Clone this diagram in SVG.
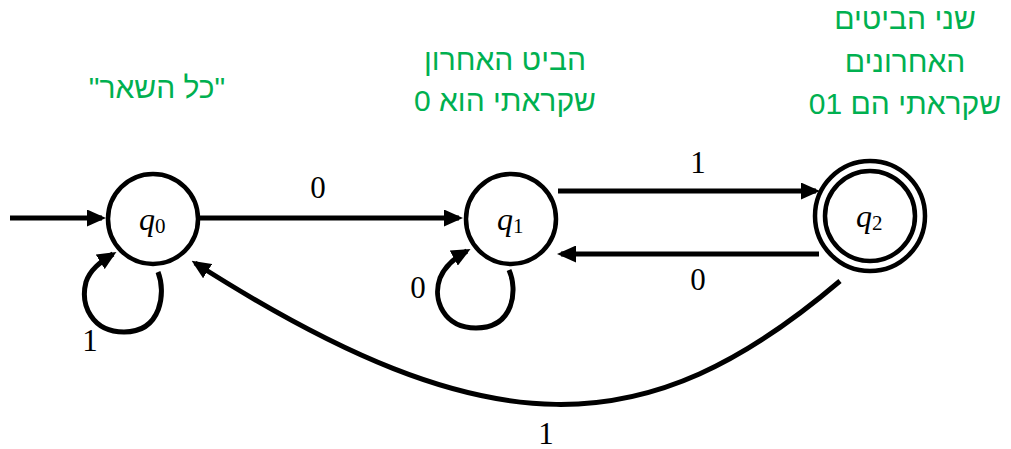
<svg xmlns="http://www.w3.org/2000/svg" width="1011" height="449" viewBox="0 0 1011 449">
<style>
.state{fill:#fff;stroke:#000;stroke-width:4.5}
.edge{fill:none;stroke:#000;stroke-width:5}
.lbl{font-family:"Liberation Serif","DejaVu Serif",serif;font-size:31px;fill:#000;text-anchor:middle}
.q{font-family:"Liberation Serif","DejaVu Serif",serif;font-size:32px;font-style:italic;fill:#000}
.sub{font-style:normal;font-size:21px}
.note{font-family:"Liberation Sans","DejaVu Sans",sans-serif;font-size:30px;fill:#00B050;text-anchor:middle}
</style>
<defs>
<marker id="arr" markerUnits="userSpaceOnUse" markerWidth="19" markerHeight="17" refX="15" refY="8.5" orient="auto">
<path d="M0,0 L19,8.5 L0,17 z" fill="#000"/>
</marker>
</defs>
<g id="connectors">
<line class="edge" x1="10" y1="218" x2="102" y2="218" marker-end="url(#arr)"/>
<line class="edge" x1="199" y1="218" x2="459" y2="218" marker-end="url(#arr)"/>
<line class="edge" x1="558" y1="191" x2="816" y2="191" marker-end="url(#arr)"/>
<line class="edge" x1="819" y1="254" x2="561" y2="254" marker-end="url(#arr)"/>
<path class="edge" d="M840,281 C647,445 491,452 195,263" marker-end="url(#arr)"/>
<path class="edge" d="M158,272 C166,292 162,332 124,332 C92,332 80,305 86,282 C90,270 100,262 113,254" marker-end="url(#arr)"/>
<path class="edge" d="M509,270 C518,290 514,328 476,328 C444,328 432,300 440,278 C445,266 454,258 467,251" marker-end="url(#arr)"/>
<text class="lbl" x="318" y="198">0</text>
<text class="lbl" x="698" y="173">1</text>
<text class="lbl" x="698" y="290">0</text>
<text class="lbl" x="418" y="298">0</text>
<text class="lbl" x="90" y="351">1</text>
<text class="lbl" x="546" y="444">1</text>
</g>
<g id="q0">
<circle class="state" cx="153" cy="219" r="45"/>
<text class="q" x="139" y="230">q<tspan class="sub" dy="3">0</tspan></text>
</g>
<g id="q1">
<circle class="state" cx="511" cy="219" r="45"/>
<text class="q" x="497" y="230">q<tspan class="sub" dy="3">1</tspan></text>
</g>
<g id="q2">
<circle class="state" cx="870" cy="216" r="55"/>
<circle class="state" cx="870" cy="216" r="45"/>
<text class="q" x="856" y="227">q<tspan class="sub" dy="3">2</tspan></text>
</g>
<g id="notes">
<text class="note" x="157" y="98" direction="rtl">"כל השאר"</text>
<text class="note" x="505" y="70" direction="rtl">הביט האחרון</text>
<text class="note" x="505" y="111" direction="rtl">שקראתי הוא 0</text>
<text class="note" x="905" y="29" direction="rtl">שני הביטים</text>
<text class="note" x="905" y="72" direction="rtl">האחרונים</text>
<text class="note" x="905" y="114" direction="rtl">שקראתי הם 01</text>
</g>
</svg>
